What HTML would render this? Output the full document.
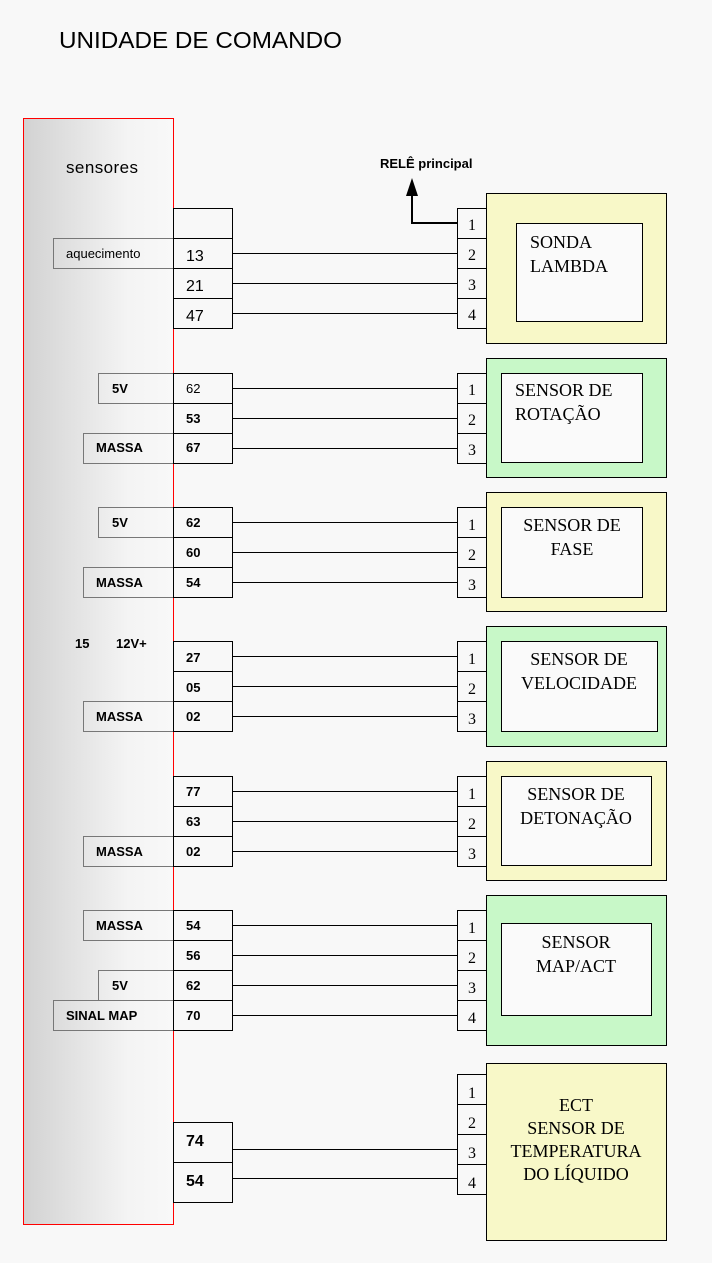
<!DOCTYPE html><html><head><style>body{margin:0;background:#f8f8f8}svg{display:block}
.s{font-family:"Liberation Sans",sans-serif}.b{font-family:"Liberation Sans",sans-serif;font-weight:bold;font-size:13px}
.r{font-family:"Liberation Serif",serif;font-size:18px}.n{font-family:"Liberation Serif",serif;font-size:16px}
</style></head><body>
<svg width="712" height="1263" xmlns="http://www.w3.org/2000/svg">
<defs><linearGradient id="g" x1="0" x2="1"><stop offset="0" stop-color="#d2d2d2"/><stop offset="0.7" stop-color="#f4f4f4"/><stop offset="1" stop-color="#f8f8f8"/></linearGradient></defs>
<rect width="712" height="1263" fill="#f8f8f8"/>
<text x="59" y="48" class="s" font-size="23" textLength="283" lengthAdjust="spacingAndGlyphs">UNIDADE DE COMANDO</text>
<rect x="23.5" y="118.5" width="150" height="1106" fill="url(#g)" stroke="#f00"/>
<text x="66" y="173" class="s" font-size="17" textLength="72">sensores</text>
<text x="380" y="168" class="b">RELÊ principal</text>
<path d="M457 223H412V195" stroke="#000" stroke-width="2" fill="none"/><path d="M406 196L412 178L418 196Z"/>
<g fill="none" stroke="#000">
<rect x="486.5" y="193.5" width="180" height="150" fill="#f8f8c8"/><rect x="516.5" y="223.5" width="126" height="98" fill="#fafafa"/>
<rect x="486.5" y="358.5" width="180" height="119" fill="#c8f8c8"/><rect x="501.5" y="373.5" width="141" height="89" fill="#fafafa"/>
<rect x="486.5" y="492.5" width="180" height="119" fill="#f8f8c8"/><rect x="501.5" y="507.5" width="141" height="90" fill="#fafafa"/>
<rect x="486.5" y="626.5" width="180" height="120" fill="#c8f8c8"/><rect x="501.5" y="641.5" width="156" height="90" fill="#fafafa"/>
<rect x="486.5" y="761.5" width="180" height="119" fill="#f8f8c8"/><rect x="501.5" y="776.5" width="150" height="89" fill="#fafafa"/>
<rect x="486.5" y="895.5" width="180" height="150" fill="#c8f8c8"/><rect x="501.5" y="923.5" width="150" height="92" fill="#fafafa"/>
<rect x="486.5" y="1063.5" width="180" height="177" fill="#f8f8c8"/>
<g stroke="#777"><rect x="53.5" y="238.5" width="120" height="30"/><rect x="98.5" y="373.5" width="75" height="30"/><rect x="83.5" y="433.5" width="90" height="30"/>
<rect x="98.5" y="507.5" width="75" height="30"/><rect x="83.5" y="567.5" width="90" height="30"/><rect x="83.5" y="701.5" width="90" height="30"/>
<rect x="83.5" y="836.5" width="90" height="30"/><rect x="83.5" y="910.5" width="90" height="30"/><rect x="98.5" y="970.5" width="75" height="30"/><rect x="53.5" y="1000.5" width="120" height="30"/></g>
<g fill="#f8f8f8">
<rect x="173.5" y="208.5" width="59" height="30"/><rect x="173.5" y="238.5" width="59" height="30"/><rect x="173.5" y="268.5" width="59" height="30"/><rect x="173.5" y="298.5" width="59" height="30"/>
<rect x="173.5" y="373.5" width="59" height="30"/><rect x="173.5" y="403.5" width="59" height="30"/><rect x="173.5" y="433.5" width="59" height="30"/>
<rect x="173.5" y="507.5" width="59" height="30"/><rect x="173.5" y="537.5" width="59" height="30"/><rect x="173.5" y="567.5" width="59" height="30"/>
<rect x="173.5" y="641.5" width="59" height="30"/><rect x="173.5" y="671.5" width="59" height="30"/><rect x="173.5" y="701.5" width="59" height="30"/>
<rect x="173.5" y="776.5" width="59" height="30"/><rect x="173.5" y="806.5" width="59" height="30"/><rect x="173.5" y="836.5" width="59" height="30"/>
<rect x="173.5" y="910.5" width="59" height="30"/><rect x="173.5" y="940.5" width="59" height="30"/><rect x="173.5" y="970.5" width="59" height="30"/><rect x="173.5" y="1000.5" width="59" height="30"/>
<rect x="173.5" y="1122.5" width="59" height="40"/><rect x="173.5" y="1162.5" width="59" height="40"/>
<rect x="457.5" y="208.5" width="29" height="30"/><rect x="457.5" y="238.5" width="29" height="30"/><rect x="457.5" y="268.5" width="29" height="30"/><rect x="457.5" y="298.5" width="29" height="30"/>
<rect x="457.5" y="373.5" width="29" height="30"/><rect x="457.5" y="403.5" width="29" height="30"/><rect x="457.5" y="433.5" width="29" height="30"/>
<rect x="457.5" y="507.5" width="29" height="30"/><rect x="457.5" y="537.5" width="29" height="30"/><rect x="457.5" y="567.5" width="29" height="30"/>
<rect x="457.5" y="641.5" width="29" height="30"/><rect x="457.5" y="671.5" width="29" height="30"/><rect x="457.5" y="701.5" width="29" height="30"/>
<rect x="457.5" y="776.5" width="29" height="30"/><rect x="457.5" y="806.5" width="29" height="30"/><rect x="457.5" y="836.5" width="29" height="30"/>
<rect x="457.5" y="910.5" width="29" height="30"/><rect x="457.5" y="940.5" width="29" height="30"/><rect x="457.5" y="970.5" width="29" height="30"/><rect x="457.5" y="1000.5" width="29" height="30"/>
<rect x="457.5" y="1074.5" width="29" height="30"/><rect x="457.5" y="1104.5" width="29" height="30"/><rect x="457.5" y="1134.5" width="29" height="30"/><rect x="457.5" y="1164.5" width="29" height="30"/>
</g>
<path d="M232 253.5H457M232 283.5H457M232 313.5H457M232 388.5H457M232 418.5H457M232 448.5H457M232 522.5H457M232 552.5H457M232 582.5H457M232 656.5H457M232 686.5H457M232 716.5H457M232 791.5H457M232 821.5H457M232 851.5H457M232 925.5H457M232 955.5H457M232 985.5H457M232 1015.5H457M232 1149.5H457M232 1178.5H457"/>
</g>
<text x="66" y="258" class="s" font-size="13">aquecimento</text>
<g class="s" font-size="16"><text x="186" y="261">13</text><text x="186" y="291">21</text><text x="186" y="321">47</text></g>
<g class="b">
<text x="112" y="393">5V</text><text x="96" y="452">MASSA</text><text x="112" y="527">5V</text><text x="96" y="587">MASSA</text>
<text x="75" y="648">15</text><text x="116" y="648">12V+</text><text x="96" y="721">MASSA</text><text x="96" y="856">MASSA</text>
<text x="96" y="930">MASSA</text><text x="112" y="990">5V</text><text x="66" y="1020">SINAL MAP</text>
<text x="186" y="423">53</text><text x="186" y="452">67</text>
<text x="186" y="527">62</text><text x="186" y="557">60</text><text x="186" y="587">54</text>
<text x="186" y="662">27</text><text x="186" y="692">05</text><text x="186" y="721">02</text>
<text x="186" y="796">77</text><text x="186" y="826">63</text><text x="186" y="856">02</text>
<text x="186" y="930">54</text><text x="186" y="960">56</text><text x="186" y="990">62</text><text x="186" y="1020">70</text>
<text x="186" y="1146" font-size="16">74</text><text x="186" y="1186" font-size="16">54</text>
</g>
<text x="186" y="393" class="s" font-size="13">62</text>
<g class="n">
<text x="468" y="230">1</text><text x="468" y="260">2</text><text x="468" y="290">3</text><text x="468" y="320">4</text>
<text x="468" y="395">1</text><text x="468" y="425">2</text><text x="468" y="455">3</text>
<text x="468" y="530">1</text><text x="468" y="560">2</text><text x="468" y="590">3</text>
<text x="468" y="664">1</text><text x="468" y="694">2</text><text x="468" y="724">3</text>
<text x="468" y="799">1</text><text x="468" y="829">2</text><text x="468" y="859">3</text>
<text x="468" y="933">1</text><text x="468" y="963">2</text><text x="468" y="993">3</text><text x="468" y="1023">4</text>
<text x="468" y="1098">1</text><text x="468" y="1128">2</text><text x="468" y="1158">3</text><text x="468" y="1188">4</text>
</g>
<g class="r">
<text x="530" y="248">SONDA</text><text x="530" y="272">LAMBDA</text>
<text x="515" y="396">SENSOR DE</text><text x="515" y="420">ROTAÇÃO</text>
<g text-anchor="middle">
<text x="572" y="531">SENSOR DE</text><text x="572" y="555">FASE</text>
<text x="579" y="665">SENSOR DE</text><text x="579" y="689">VELOCIDADE</text>
<text x="576" y="800">SENSOR DE</text><text x="576" y="824">DETONAÇÃO</text>
<text x="576" y="948">SENSOR</text><text x="576" y="972">MAP/ACT</text>
<text x="576" y="1111">ECT</text><text x="576" y="1134">SENSOR DE</text><text x="576" y="1157">TEMPERATURA</text><text x="576" y="1180">DO LÍQUIDO</text>
</g></g>
</svg></body></html>
